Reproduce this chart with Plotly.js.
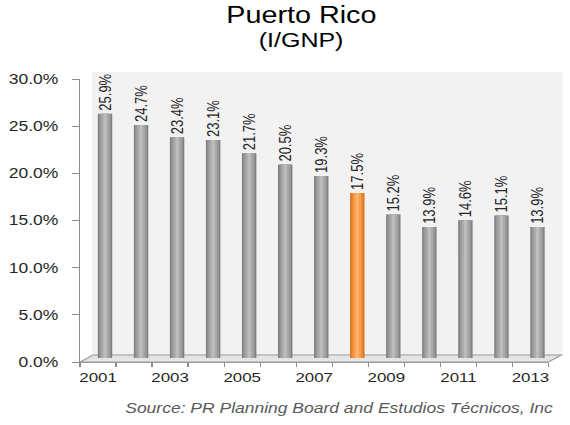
<!DOCTYPE html>
<html>
<head>
<meta charset="utf-8">
<script src="https://cdn.plot.ly/plotly-3.0.1.min.js"></script>
<style>
html,body{margin:0;padding:0;background:#fff;overflow:hidden;}
#wrap{width:570px;height:425px;overflow:hidden;}
#chart{width:456px;height:425px;transform:scaleX(1.25);transform-origin:0 0;}
</style>
</head>
<body>
<div id="wrap"><div id="chart"></div></div>
<script>
var years = [2001, 2002, 2003, 2004, 2005, 2006, 2007, 2008, 2009, 2010, 2011, 2012, 2013];
var values = [25.9, 24.7, 23.4, 23.1, 21.7, 20.5, 19.3, 17.5, 15.2, 13.9, 14.6, 15.1, 13.9];
var labels = ["25.9%", "24.7%", "23.4%", "23.1%", "21.7%", "20.5%", "19.3%", "17.5%", "15.2%", "13.9%", "14.6%", "15.1%", "13.9%"];
var highlightYear = 2008;
var yTickVals = [0, 5, 10, 15, 20, 25, 30];
var yTickText = ["0.0%", "5.0%", "10.0%", "15.0%", "20.0%", "25.0%", "30.0%"];
var xTickVals = [2001, 2003, 2005, 2007, 2009, 2011, 2013];
var xTickText = ["2001", "2003", "2005", "2007", "2009", "2011", "2013"];

// The reference is horizontally stretched; the chart is drawn at 1/S width and scaled.
var S = 1.25;
var BW = 570 / S;                 // base width
var Lf = 80, Rf = 562;            // final-pixel plot area left/right
var T = 72, B = 63, H = 425 - T - B;
var Lb = Lf / S, Wb = (Rf - Lf) / S;
function px(x) { return (x / S - Lb) / Wb; }       // final px -> paper x
function py(y) { return (425 - B - y) / H; }       // final px -> paper y
function dx(d) { return d / S / Wb; }              // final px width -> paper fraction

function colorsFor(base, hi) {
  return years.map(function (y) { return y === highlightYear ? hi : base; });
}

var layers = [
  { w: 0.40, base: '#7f7f7f', hi: '#d9731f' },
  { w: 0.32, base: '#999999', hi: '#f08a30' },
  { w: 0.20, base: '#ababab', hi: '#f9a04e' },
  { w: 0.08, base: '#bdbdbd', hi: '#fbb46c' }
];

var fontFam = 'Liberation Sans, Arial, sans-serif';

var traces = [{
  type: 'scatter', x: [years[0]], y: [0], xaxis: 'x', yaxis: 'y',
  mode: 'markers', marker: { opacity: 0 }, hoverinfo: 'skip', showlegend: false
}];

layers.forEach(function (ly, i) {
  var t = {
    type: 'bar', x: years, y: values,
    xaxis: 'x2', yaxis: 'y2',
    width: ly.w,
    marker: { color: colorsFor(ly.base, ly.hi), line: { width: 0 } },
    hoverinfo: 'skip', showlegend: false
  };
  if (i === 0) {
    t.text = labels;
    t.textposition = 'outside';
    t.textangle = -90;
    t.constraintext = 'none';
    t.cliponaxis = false;
    t.textfont = { family: fontFam, size: 13, color: '#262626' };
  }
  traces.push(t);
});

var shapes = [
  { type: 'rect', xref: 'paper', yref: 'paper', x0: px(92), x1: px(562), y0: py(355), y1: py(72),
    fillcolor: '#f2f2f2', line: { width: 0 }, layer: 'below' },
  { type: 'path', xref: 'paper', yref: 'paper',
    path: 'M ' + px(80) + ' ' + py(362) + ' L ' + px(548) + ' ' + py(362) + ' L ' + px(561) + ' ' + py(355) + ' L ' + px(93) + ' ' + py(355) + ' Z',
    fillcolor: '#e4e4e4', line: { color: '#9a9a9a', width: 1 }, layer: 'below' }
];

var layout = {
  width: BW, height: 425,
  margin: { l: Lb, r: BW - Lb - Wb, t: T, b: B },
  paper_bgcolor: '#ffffff', plot_bgcolor: 'rgba(0,0,0,0)',
  barmode: 'overlay',
  xaxis: {
    domain: [0, dx(468)], range: [2000.5, 2013.5],
    tickvals: xTickVals, ticktext: xTickText, ticks: '', ticklen: 0,
    minor: { tick0: 2000.5, dtick: 1, ticks: 'outside', ticklen: 4, tickcolor: '#8c8c8c', showgrid: false },
    showline: true, linecolor: '#9a9a9a', linewidth: 1, showgrid: false, zeroline: false,
    tickfont: { family: fontFam, size: 13.5, color: '#262626' },
    ticklabelstandoff: 3,
    fixedrange: true
  },
  yaxis: {
    domain: [0, 283 / H], range: [0, 30],
    tickvals: yTickVals, ticktext: yTickText, ticks: 'outside', ticklen: 5.5, tickcolor: '#8c8c8c',
    showline: true, linecolor: '#8c8c8c', linewidth: 1, showgrid: false, zeroline: false,
    tickfont: { family: fontFam, size: 14, color: '#262626' },
    ticklabelstandoff: 8,
    fixedrange: true
  },
  xaxis2: {
    domain: [dx(7), dx(475)], range: [2000.5, 2013.5], anchor: 'y2',
    visible: false, fixedrange: true
  },
  yaxis2: {
    domain: [4 / H, 287 / H], range: [0, 30], anchor: 'x2',
    visible: false, fixedrange: true
  },
  shapes: shapes,
  annotations: [
    { text: 'Puerto Rico', xref: 'paper', yref: 'paper', x: px(301), y: py(15),
      xanchor: 'center', yanchor: 'middle', showarrow: false,
      font: { family: fontFam, size: 23, color: '#000000' } },
    { text: '(I/GNP)', xref: 'paper', yref: 'paper', x: px(301), y: py(40),
      xanchor: 'center', yanchor: 'middle', showarrow: false,
      font: { family: fontFam, size: 20, color: '#000000' } },
    { text: 'Source: PR Planning Board and Estudios Técnicos, Inc', xref: 'paper', yref: 'paper',
      x: px(554), y: py(408), xanchor: 'right', yanchor: 'middle', showarrow: false,
      font: { family: fontFam, size: 14, color: '#595959', style: 'italic' } }
  ]
};

Plotly.newPlot('chart', traces, layout, { displayModeBar: false, staticPlot: true });
</script>
</body>
</html>
